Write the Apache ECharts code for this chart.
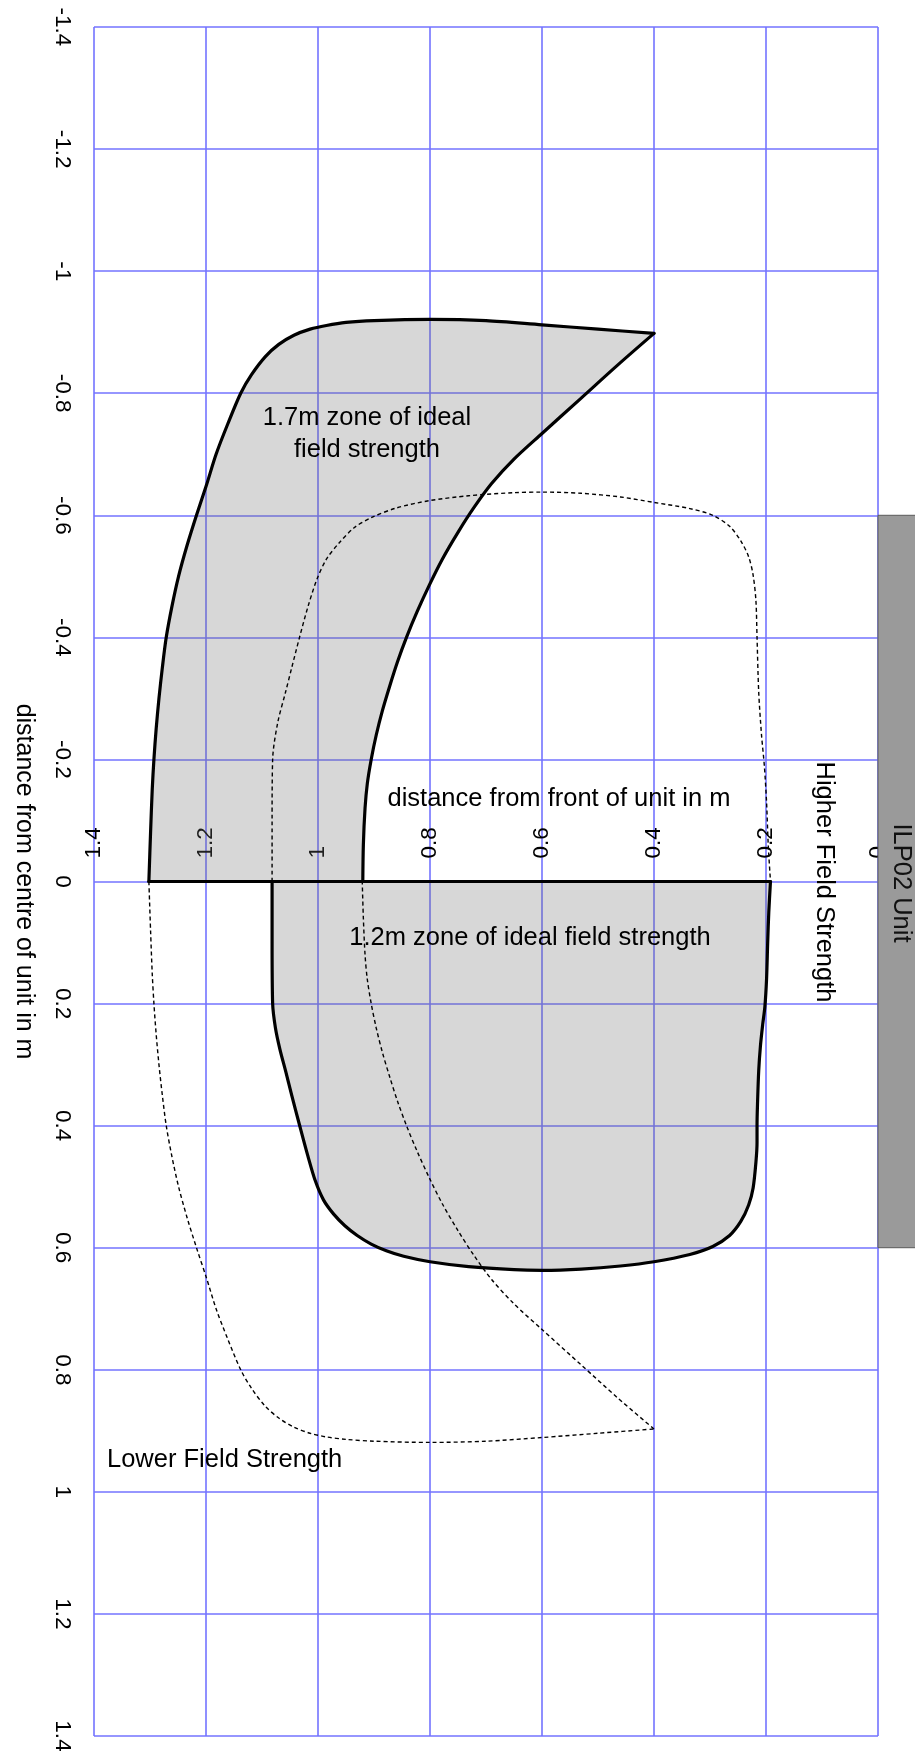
<!DOCTYPE html>
<html><head><meta charset="utf-8">
<script src="https://cdn.jsdelivr.net/npm/echarts@6/dist/echarts.min.js"></script>
<style>html,body{margin:0;padding:0;background:#fff}#c{width:915px;height:1754px}</style>
</head><body><div id="c"></div>
<script>
// [distance from front (m), distance from centre (m)]
// 1.7m zone: outer edge (bottom-left corner -> tip) and inner edge (tip -> y=0)
const zone17Outer = [
  [1.302, 0], [1.299, -0.08], [1.296, -0.151], [1.293, -0.2], [1.289, -0.25], [1.284, -0.3],
  [1.278, -0.35], [1.271, -0.4], [1.261, -0.45], [1.249, -0.5], [1.234, -0.55], [1.217, -0.6],
  [1.199, -0.65], [1.182, -0.7], [1.161, -0.75], [1.138, -0.8], [1.119, -0.83], [1.094, -0.86],
  [1.070, -0.88], [1.043, -0.895], [1.014, -0.905], [0.985, -0.911], [0.950, -0.916], [0.900, -0.919],
  [0.80, -0.921], [0.70, -0.919], [0.60, -0.912], [0.50, -0.905], [0.40, -0.898]
];
const zone17Inner = [
  [0.40, -0.898], [0.465, -0.846], [0.530, -0.792], [0.600, -0.734], [0.650, -0.692], [0.690, -0.652],
  [0.722, -0.612], [0.750, -0.572], [0.778, -0.528], [0.801, -0.486], [0.823, -0.442], [0.842, -0.400],
  [0.858, -0.36], [0.872, -0.32], [0.885, -0.28], [0.896, -0.24], [0.905, -0.2], [0.912, -0.16],
  [0.916, -0.12], [0.919, -0.06], [0.920, 0]
];
// 1.2m zone: from the y=0 line round to the y=0 line
const zone12Edge = [
  [1.082, 0], [1.082, 0.1], [1.081, 0.2], [1.076, 0.24], [1.068, 0.275], [1.058, 0.31], [1.047, 0.35],
  [1.033, 0.399], [1.018, 0.450], [1.005, 0.490], [0.990, 0.522], [0.972, 0.545], [0.952, 0.564],
  [0.930, 0.58], [0.905, 0.594], [0.878, 0.605], [0.847, 0.614], [0.80, 0.623], [0.731, 0.631],
  [0.65, 0.636], [0.599, 0.637], [0.53, 0.635], [0.460, 0.630], [0.40, 0.623], [0.336, 0.611],
  [0.295, 0.598], [0.265, 0.580], [0.245, 0.557], [0.231, 0.530], [0.223, 0.502], [0.218, 0.46],
  [0.216, 0.428], [0.216, 0.399], [0.215, 0.36], [0.213, 0.31], [0.210, 0.27], [0.206, 0.235],
  [0.202, 0.205], [0.199, 0.16], [0.197, 0.10], [0.195, 0.05], [0.192, 0]
];
// straight y=0 edge shared by both zones
const centreEdge = [[1.302, 0], [0.192, 0]];
// dotted field-strength boundaries
const dottedUpper = [
  [1.082, 0], [1.082, -0.1], [1.081, -0.2], [1.072, -0.26], [1.058, -0.31], [1.047, -0.35], [1.033, -0.4],
  [1.018, -0.45], [1.002, -0.495], [0.985, -0.528], [0.962, -0.555], [0.935, -0.58], [0.905, -0.596],
  [0.860, -0.612], [0.801, -0.624], [0.731, -0.632], [0.650, -0.637], [0.600, -0.638], [0.530, -0.636],
  [0.460, -0.630], [0.400, -0.621], [0.336, -0.611], [0.295, -0.600], [0.265, -0.582], [0.245, -0.558],
  [0.231, -0.532], [0.223, -0.502], [0.218, -0.46], [0.216, -0.400], [0.213, -0.31], [0.208, -0.24],
  [0.203, -0.19], [0.199, -0.13], [0.196, -0.06], [0.192, 0]
];
const dottedLowerOuter = [
  [1.302, 0], [1.299, 0.08], [1.296, 0.151], [1.293, 0.2], [1.289, 0.25], [1.284, 0.3], [1.278, 0.35],
  [1.271, 0.4], [1.261, 0.45], [1.249, 0.5], [1.234, 0.55], [1.217, 0.6], [1.199, 0.65], [1.182, 0.7],
  [1.161, 0.75], [1.138, 0.8], [1.119, 0.83], [1.094, 0.86], [1.070, 0.879], [1.043, 0.894],
  [1.014, 0.904], [0.985, 0.910], [0.950, 0.914], [0.900, 0.917], [0.80, 0.919], [0.70, 0.917],
  [0.60, 0.911], [0.50, 0.904], [0.40, 0.897]
];
const dottedLowerInner = [
  [0.40, 0.897], [0.465, 0.846], [0.530, 0.792], [0.600, 0.734], [0.650, 0.692], [0.690, 0.652],
  [0.722, 0.612], [0.750, 0.572], [0.778, 0.528], [0.801, 0.486], [0.823, 0.442], [0.842, 0.400],
  [0.858, 0.36], [0.872, 0.32], [0.885, 0.28], [0.896, 0.24], [0.905, 0.2], [0.912, 0.16],
  [0.916, 0.12], [0.919, 0.06], [0.921, 0]
];
const unitSpan = [[0, -0.6], [0, 0.6]];

const FONT = "'Liberation Sans', Arial, sans-serif";
const GRID_COLOR = '#7373ff';
const GRID = {left: 94, right: 37, top: 27, bottom: 18};
const PLOT_H = 1754 - GRID.top - GRID.bottom;

const chart = echarts.init(document.getElementById('c'), null, {renderer: 'canvas'});

function fillSeries(pts) {
  return {
    type: 'custom', z: 2, clip: false, silent: true,
    data: pts,
    renderItem: function (params, api) {
      if (params.dataIndex !== 0) return;
      return {
        type: 'polygon',
        shape: {points: pts.map(p => api.coord(p))},
        style: {fill: 'rgba(110,110,110,0.28)', lineWidth: 0}
      };
    }
  };
}
function edgeSeries(pts, smooth) {
  return {
    type: 'line', data: pts, symbol: 'none', showSymbol: false, silent: true, z: 5, smooth: smooth,
    lineStyle: {color: '#000', width: 3.2, cap: 'round', join: 'round'}
  };
}
function dottedSeries(pts) {
  return {
    type: 'line', data: pts, symbol: 'none', showSymbol: false, silent: true, z: 4, smooth: 0.3,
    lineStyle: {color: '#000', width: 1.4, type: [4, 3]}
  };
}

chart.setOption({
  animation: false,
  backgroundColor: '#fff',
  grid: {left: GRID.left, right: GRID.right, top: GRID.top, bottom: GRID.bottom, containLabel: false, outerBoundsMode: 'none'},
  xAxis: {
    type: 'value', min: 0, max: 1.4, interval: 0.2, inverse: true, position: 'top',
    // axis sits on the centre line (distance from centre = 0), half-way down the plot
    offset: -PLOT_H / 2,
    axisLine: {show: false, onZero: false},
    axisTick: {show: false},
    axisLabel: {rotate: -90, margin: 23, color: '#000', fontSize: 22.5, fontFamily: FONT},
    splitLine: {show: true, lineStyle: {color: GRID_COLOR, width: 1.6}}
  },
  yAxis: {
    type: 'value', min: -1.4, max: 1.4, interval: 0.2, inverse: true, position: 'left',
    name: 'distance from centre of unit in m', nameLocation: 'middle', nameRotate: -90, nameGap: 58,
    nameTextStyle: {color: '#000', fontSize: 25, fontFamily: FONT},
    axisLine: {show: false, onZero: false},
    axisTick: {show: false},
    axisLabel: {rotate: -90, margin: 20, color: '#000', fontSize: 22.5, fontFamily: FONT},
    splitLine: {show: true, lineStyle: {color: GRID_COLOR, width: 1.6}}
  },
  series: [
    {
      type: 'custom', z: 1, clip: false, silent: true, data: unitSpan,
      renderItem: function (params, api) {
        if (params.dataIndex !== 0) return;
        const a = api.coord(unitSpan[0]);
        const b = api.coord(unitSpan[1]);
        return {
          type: 'rect',
          shape: {x: a[0], y: a[1], width: api.getWidth() - a[0] + 2, height: b[1] - a[1]},
          style: {fill: '#9a9a9a', stroke: '#5a5a5a', lineWidth: 1}
        };
      }
    },
    fillSeries(zone17Outer.concat(zone17Inner)),
    fillSeries(zone12Edge),
    dottedSeries(dottedUpper),
    dottedSeries(dottedLowerOuter),
    dottedSeries(dottedLowerInner),
    edgeSeries(zone17Outer, 0.3),
    edgeSeries(zone17Inner, 0.3),
    edgeSeries(zone12Edge, 0.3),
    edgeSeries(centreEdge, false)
  ],
  graphic: [
    {type: 'text', x: 367, y: 434, z: 100, silent: true,
     style: {text: '1.7m zone of ideal\nfield strength', align: 'center', verticalAlign: 'middle', textAlign: 'center', textVerticalAlign: 'middle', lineHeight: 32, fontSize: 25.5, fontFamily: FONT, fill: '#000'}},
    {type: 'text', x: 530, y: 938, z: 100, silent: true,
     style: {text: '1.2m zone of ideal field strength', align: 'center', verticalAlign: 'middle', textAlign: 'center', textVerticalAlign: 'middle', fontSize: 25.5, fontFamily: FONT, fill: '#000'}},
    {type: 'text', x: 107, y: 1460, z: 100, silent: true,
     style: {text: 'Lower Field Strength', align: 'left', verticalAlign: 'middle', textAlign: 'left', textVerticalAlign: 'middle', fontSize: 25.5, fontFamily: FONT, fill: '#000'}},
    {type: 'text', x: 824, y: 882, rotation: -Math.PI / 2, z: 100, silent: true,
     style: {text: 'Higher Field Strength', align: 'center', verticalAlign: 'middle', textAlign: 'center', textVerticalAlign: 'middle', fontSize: 25.5, fontFamily: FONT, fill: '#000'}},
    {type: 'text', x: 901, y: 883, rotation: -Math.PI / 2, z: 100, silent: true,
     style: {text: 'ILP02 Unit', align: 'center', verticalAlign: 'middle', textAlign: 'center', textVerticalAlign: 'middle', fontSize: 25.5, fontFamily: FONT, fill: '#111'}},
    {type: 'text', x: 559, y: 799, z: 100, silent: true,
     style: {text: 'distance from front of unit in m', align: 'center', verticalAlign: 'middle', textAlign: 'center', textVerticalAlign: 'middle', fontSize: 25.5, fontFamily: FONT, fill: '#000'}}
  ]
});
</script>
</body></html>
